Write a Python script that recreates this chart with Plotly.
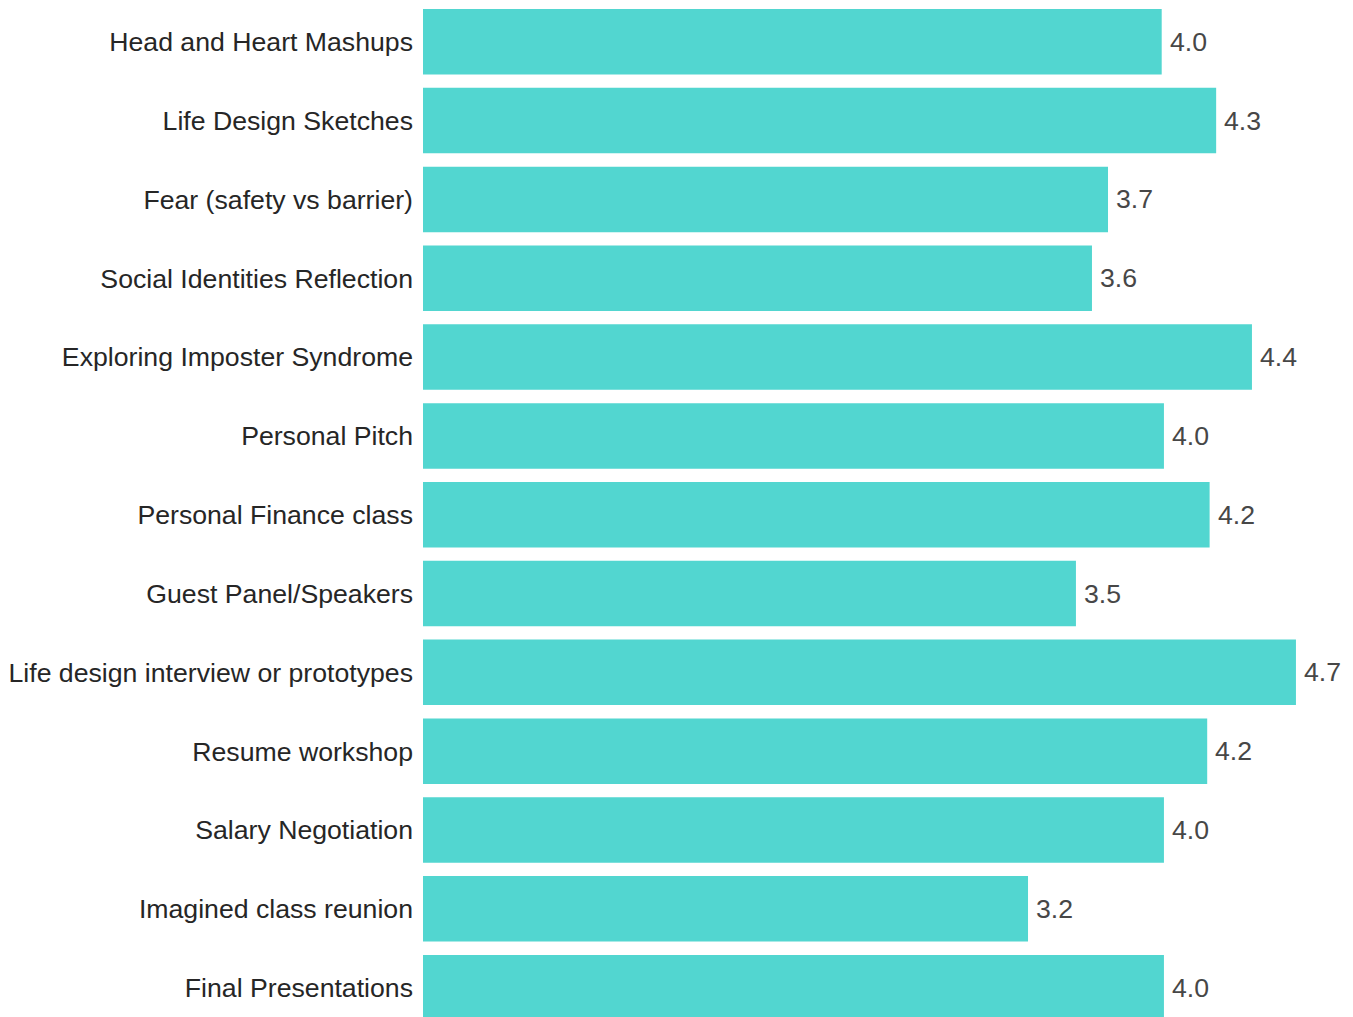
import plotly.graph_objects as go

categories = [
    "Head and Heart Mashups",
    "Life Design Sketches",
    "Fear (safety vs barrier)",
    "Social Identities Reflection",
    "Exploring Imposter Syndrome",
    "Personal Pitch",
    "Personal Finance class",
    "Guest Panel/Speakers",
    "Life design interview or prototypes",
    "Resume workshop",
    "Salary Negotiation",
    "Imagined class reunion",
    "Final Presentations",
]
values = [3.962, 4.254, 3.674, 3.588, 4.446, 3.974, 4.219, 3.502, 4.682, 4.206, 3.974, 3.245, 3.974]

BAR_COLOR = "#52D6D0"
FONT = "Liberation Sans, Arial, sans-serif"

fig = go.Figure()
fig.add_trace(go.Bar(
    x=values,
    y=categories,
    orientation="h",
    marker=dict(color=BAR_COLOR, line=dict(width=0)),
    hoverinfo="x+y",
))

for c, v in zip(categories, values):
    fig.add_annotation(
        x=v, y=c, xref="x", yref="y",
        text=f"{v:.1f}", showarrow=False,
        xanchor="left", yanchor="middle", xshift=6,
        font=dict(family=FONT, size=26.67, color="#474747"),
    )

fig.update_layout(
    width=1353, height=1017,
    margin=dict(l=423, r=0, t=0, b=0, pad=0),
    paper_bgcolor="white", plot_bgcolor="white",
    bargap=0.169,
    showlegend=False,
    font=dict(family=FONT, size=26.67, color="#262626"),
    xaxis=dict(range=[0, 4.988], showgrid=False, zeroline=False,
               showticklabels=False, showline=False, ticks=""),
    yaxis=dict(type="category", categoryorder="array", categoryarray=categories,
               range=[12.372, -0.5296], showgrid=False, zeroline=False,
               showline=False, ticks="", ticklabelstandoff=9,
               tickfont=dict(family=FONT, size=26.67, color="#262626")),
)

fig.write_html(
    "out.html",
    config={"displayModeBar": False},
    post_script="document.body.style.margin='0';document.body.style.overflow='hidden';",
)
